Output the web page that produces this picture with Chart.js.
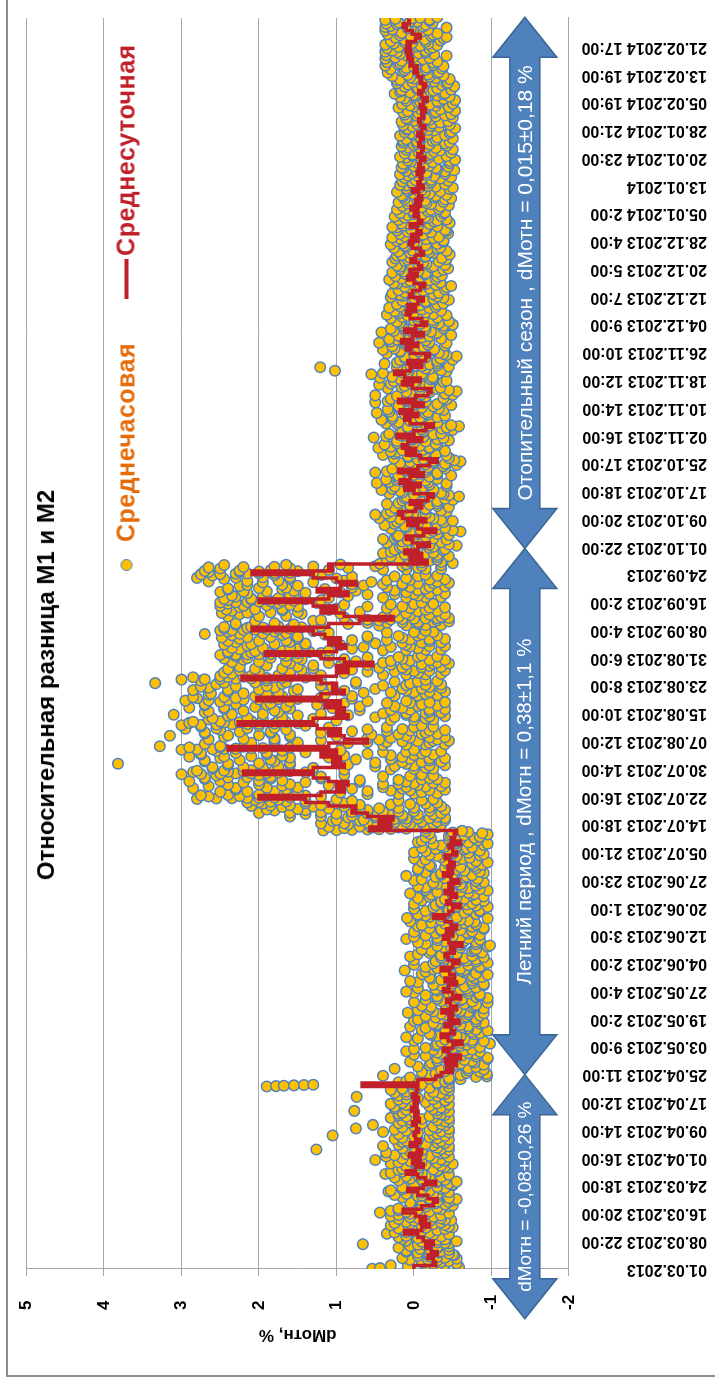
<!DOCTYPE html>
<html lang="ru">
<head>
<meta charset="utf-8">
<title>Относительная разница М1 и М2</title>
<script src="https://cdn.jsdelivr.net/npm/chart.js@4.4.1/dist/chart.umd.min.js"></script>
<style>
  html, body { margin: 0; padding: 0; background: #fff; }
  #sheet { position: relative; width: 715px; height: 1383px; overflow: hidden; transform: rotate(180deg); font-family: "Liberation Sans", Arial, sans-serif; }
  #sheet canvas { position: absolute; left: 0; top: 0; }
  .frame { position: absolute; top: 6px; right: 6px; left: -20px; height: 1420px; border-top: 2px solid #8c8c8c; border-right: 2px solid #8c8c8c; }
  .turned { position: absolute; transform-origin: 0 0; white-space: nowrap; }
  .title { left: 669px; top: 698px; transform: rotate(90deg) translate(-50%, -50%); font-weight: bold; font-size: 24px; color: #000; }
  .legend { left: 589px; top: 812px; transform: rotate(90deg) translateY(-50%); display: flex; align-items: center; font-weight: bold; font-size: 25px; letter-spacing: 0.5px; }
  .legend .dot { width: 10px; height: 10px; border-radius: 50%; background: #ffc000; border: 1.5px solid #4f81bd; margin-right: 17px; }
  .legend .hourly { color: #e46c0a; }
  .legend .dash { width: 40px; height: 4px; background: #c0202a; margin-left: 44px; margin-right: 3px; }
  .legend .daily { color: #c0202a; }
</style>
</head>
<body>
<div id="sheet">
  <div class="frame"></div>
  <canvas id="diffChart" width="715" height="1383"></canvas>
  <div class="turned title">Относительная разница М1 и М2</div>
  <div class="turned legend">
    <span class="dot"></span><span class="hourly">Среднечасовая</span>
    <span class="dash"></span><span class="daily">Среднесуточная</span>
  </div>
</div>
<script>
// hour axis: one tick label every 190 hourly records
const labelStep = 190;
const dateLabels = [
  '01.03.2013', '08.03.2013 22:00', '16.03.2013 20:00', '24.03.2013 18:00', '01.04.2013 16:00',
  '09.04.2013 14:00', '17.04.2013 12:00', '25.04.2013 11:00', '03.05.2013 9:00', '19.05.2013 2:00',
  '27.05.2013 4:00', '04.06.2013 2:00', '12.06.2013 3:00', '20.06.2013 1:00', '27.06.2013 23:00',
  '05.07.2013 21:00', '14.07.2013 18:00', '22.07.2013 16:00', '30.07.2013 14:00', '07.08.2013 12:00',
  '15.08.2013 10:00', '23.08.2013 8:00', '31.08.2013 6:00', '08.09.2013 4:00', '16.09.2013 2:00',
  '24.09.2013', '01.10.2013 22:00', '09.10.2013 20:00', '17.10.2013 18:00', '25.10.2013 17:00',
  '02.11.2013 16:00', '10.11.2013 14:00', '18.11.2013 12:00', '26.11.2013 10:00', '04.12.2013 9:00',
  '12.12.2013 7:00', '20.12.2013 5:00', '28.12.2013 4:00', '05.01.2014 2:00', '13.01.2014',
  '20.01.2014 23:00', '28.01.2014 21:00', '05.02.2014 19:00', '13.02.2014 19:00', '21.02.2014 17:00'
];
const hourMax = 8560;

// daily mean dMотн, %, one value per day starting 01.03.2013
const springMean = [
  0, -0.28, -0.25, -0.18, -0.3, -0.22, -0.15, -0.25, -0.12, -0.05,
  0.12, -0.1, -0.2, -0.08, -0.15, -0.02, 0.14, -0.1, -0.25, -0.3,
  -0.18, -0.05, 0.08, -0.12, -0.28, -0.15, -0.05, 0.1, -0.02, -0.12,
  0.02, -0.08, 0.06, -0.1, -0.04, 0.05, -0.08, -0.02, 0, -0.06,
  -0.03, 0.02, -0.07, -0.01, -0.05, 0.03, -0.04, 0, -0.06, 0.02,
  -0.03, -0.05, 0.67, -0.05, -0.28
];
const summerLowMean = [
  -0.35, -0.5, -0.42, -0.55, -0.4, -0.6, -0.45, -0.38, -0.5, -0.62,
  -0.44, -0.35, -0.52, -0.48, -0.4, -0.58, -0.45, -0.5, -0.36, -0.55,
  -0.47, -0.42, -0.6, -0.5, -0.38, -0.45, -0.55, -0.4, -0.52, -0.46,
  -0.35, -0.5, -0.58, -0.44, -0.4, -0.52, -0.47, -0.62, -0.45, -0.38,
  -0.5, -0.42, -0.55, -0.48, -0.4, -0.25, -0.45, -0.5, -0.6, -0.42,
  -0.47, -0.55, -0.4, -0.5, -0.45, -0.58, -0.48, -0.38, -0.5, -0.44,
  -0.52, -0.46, -0.4, -0.55, -0.5, -0.45, -0.6, -0.48, -0.52, -0.55
];
const summerHighMean = [
  0.57, 0.3, 0.45, 0.27, 0.6, 0.8, 0.75, 1.1, 1.4, 2.0,
  1.2, 0.9, 1.0, 0.85, 1.1, 1.3, 2.2, 1.3, 0.9, 1.05,
  0.95, 1.2, 1.0, 2.4, 1.1, 0.6, 0.9, 1.1, 0.95, 1.25,
  2.27, 1.3, 0.85, 1.0, 0.9, 1.15, 0.95, 2.03, 1.2, 0.9,
  1.05, 1.0, 1.2, 2.22, 1.0, 0.85, 1.0, 0.53, 0.9, 1.2,
  1.92, 1.0, 0.88, 1.1, 0.95, 1.15, 1.3, 2.09, 1.1, 0.7,
  0.27, 0.9, 1.2, 1.0, 1.3, 2.0, 1.1, 0.85, 1.25, 0.95,
  0.74, 1.0, 1.3, 2.09, 1.05, 1.1
];
const heatingMean = [
  -0.17, 0.05, -0.1, 0.12, -0.05, -0.2, 0.02, 0.1, -0.12, -0.28,
  -0.05, 0.08, -0.15, 0.15, 0.2, -0.02, -0.1, 0.05, -0.18, -0.25,
  0.0, 0.12, -0.08, 0.18, 0.05, -0.12, 0.2, -0.05, -0.2, -0.3,
  -0.08, 0.1, -0.02, 0.15, 0.08, -0.1, 0.22, 0.0, -0.15, -0.25,
  0.05, 0.12, -0.05, 0.18, 0.02, -0.12, 0.2, -0.02, -0.18, -0.22,
  0.02, 0.15, -0.08, 0.12, 0.25, 0.05, -0.1, 0.08, -0.15, -0.2,
  0.04, 0.1, -0.05, 0.16, 0.02, -0.12, 0.12, -0.02, -0.16, -0.1,
  0.05, 0.1, -0.02, 0.08, -0.05, -0.12, 0.06, 0.02, -0.08, -0.14,
  0.0, 0.08, -0.04, 0.05, -0.1, -0.06, 0.04, -0.02, -0.12, -0.08,
  0.02, 0.06, -0.05, 0.03, -0.09, -0.04, 0.05, -0.1, -0.06, 0.0,
  -0.05, 0.04, -0.08, -0.02, -0.1, -0.06, 0.02, -0.12, -0.05, -0.08,
  -0.1, -0.04, -0.12, -0.06, -0.08, -0.14, -0.05, -0.1, -0.12, -0.06,
  -0.08, -0.12, -0.05, -0.1, -0.14, -0.08, -0.06, -0.12, -0.1, -0.15,
  -0.08, -0.12, -0.17, -0.1, -0.06, -0.12, -0.15, -0.08, -0.1, -0.05,
  0.0, -0.04, 0.05, 0.02, 0.08, 0.04, 0.1, 0.05, 0.09, -0.02,
  -0.08, 0.02, 0.1, 0.14, 0.06, 0.09
];

// hourly readings, hundredths of a percent, one string per day (spread evenly over the day)
const springHourly = [
  '54 44 -35 -58 8 -15', '30 -40 -25 -55 -12 -35', '-10 -45 -30 5 -18 -55', '15 -40 -30 -20 -5 -52', '-50 -20 -45 -5 -32 10',
  '-35 10 -45 -20 -8 -30', '20 -30 -45 5 -15 -5', '66 -45 -40 -30 -10 -55', '10 -30 -40 15 -5 -20', '20 -35 10 -15 -25 -45',
  '35 -20 25 10 0 -10', '-30 15 -40 20 -15 -50', '-45 -10 30 -40 -25 5', '25 -35 10 -20 0 -48', '-40 20 -35 -5 5 -25',
  '30 -35 20 -15 5 -45', '44 10 -20 30 20 -5', '-35 20 -30 5 -15 -45', '-50 -10 -40 -15 -28 5', '-45 -30 -10 -50 -20 -55',
  '-20 -45 15 -30 -5 -10', '25 -30 10 -25 -10 -45', '33 -20 30 -10 15 -35', '-40 15 -30 0 -15 -50', '-50 -15 -45 -20 -30 -55',
  '-30 20 -40 -10 5 -20', '25 -35 10 -15 -5 -45', '37 -10 30 -5 15 -30', '-30 20 -25 15 -5 -45', '-40 10 -35 -5 -15 -50',
  '30 -30 20 -10 5 -40', '50 -35 15 -25 -5 -45', '36 -20 25 -10 10 -35', '-40 36 -30 5 -10 -45', '126 -35 15 -30 0 -45',
  '40 -25 20 -15 5 -40', '-30 15 -35 10 -5 -45', '25 -30 15 -20 0 -40', '105 -25 20 -30 -5 -45', '40 -35 10 -20 25 -45',
  '75 -30 15 -25 0 -40', '53 -35 -10 20 5 -45', '-40 15 -30 5 -10 -45', '30 -25 10 -20 20 -40', '-35 20 -30 15 0 -45',
  '77 -30 10 -25 25 -40', '-35 25 -20 5 10 -45', '30 -30 15 -15 0 -40', '-40 20 -25 10 -5 -45', '74 -30 20 -20 10 -40',
  '-35 25 -25 10 0 -45', '30 -40 15 -20 -5 -45', '190 178 168 155 142 130 -10 5 -30 -45', '-30 20 -40 10 0 -45', '-60 -20 -45 5 -80 -94'
];
const summerLowHourly = [
  '40 -60 -20 -94 -28 -68', '-10 -85 -40 -70 -35 -90', '25 -70 -45 -80 -5 -55', '-20 -90 -55 -60 -22 -78', '5 -75 -30 -65 -48 -95',
  '-30 -95 -50 -80 -15 -62', '0 -80 -35 -70 -30 -85', '10 -65 -25 -75 0 -50', '-15 -85 -45 -60 -28 -68', '-30 -98 -60 -75 -35 -90',
  '0 -75 -40 -65 -5 -55', '10 -60 -30 -55 -22 -78', '-20 -85 -45 -75 -48 -95', '-10 -80 -40 -70 -15 -62', '5 -70 -30 -60 -30 -85',
  '-25 -90 -55 -80 0 -50', '-5 -80 -35 -65 -28 -68', '-15 -85 -40 -70 -35 -90', '8 -70 -25 -60 -5 -55', '-20 -90 -50 -75 -22 -78',
  '-10 -80 -40 -65 -48 -95', '0 -75 -35 -60 -15 -62', '-30 -95 -55 -80 -30 -85', '-15 -85 -45 -70 0 -50', '10 -70 -30 -60 -28 -68',
  '-5 -80 -40 -65 -35 -90', '-25 -90 -50 -75 -5 -55', '5 -75 -35 -60 -22 -78', '-20 -88 -45 -75 -48 -95', '-10 -80 -40 -65 -15 -62',
  '12 -65 -25 -60 -30 -85', '-15 -85 -45 -70 0 -50', '-25 -95 -55 -80 -28 -68', '0 -80 -40 -65 -35 -90', '5 -75 -35 -55 -5 -55',
  '-20 -88 -45 -75 -22 -78', '-10 -80 -40 -60 -48 -95', '-30 -98 -60 -80 -15 -62', '-5 -80 -40 -65 -30 -85', '10 -70 -30 -60 0 -50',
  '-15 -85 -45 -70 -28 -68', '0 -75 -35 -60 -35 -90', '-20 -90 -50 -75 -5 -55', '-10 -80 -40 -65 -22 -78', '5 -70 -35 -60 -48 -95',
  '9 -55 -20 -35 -15 -40', '-5 -80 -40 -65 -30 -85', '-15 -85 -45 -70 0 -50', '-25 -95 -55 -80 -28 -68', '0 -75 -35 -60 -35 -90',
  '-10 -80 -40 -65 -5 -55', '-20 -90 -50 -75 -22 -78', '5 -70 -30 -60 -48 -95', '-15 -85 -45 -70 -15 -62', '-5 -80 -40 -60 -30 -85',
  '-25 -90 -55 -80 0 -50', '-10 -82 -40 -65 -28 -68', '10 -75 -35 -50 -35 -90', '-15 -85 -45 -65 -5 -55', '-5 -80 -40 -60 -22 -78',
  '-20 -88 -45 -75 -48 -95', '-10 -80 -40 -55 -15 -62', '0 -72 -35 -55 -30 -85', '-20 -90 -50 -70 0 -50', '-15 -85 -45 -65 -28 -68',
  '-10 -75 -40 -55 -35 -90', '-25 -95 -55 -70 -5 -55', '-10 -82 -45 -60 -22 -78', '-15 -85 -45 -65 -48 -95', '-20 -88 -50 -70 -15 -62'
];
const summerHighHourly = [
  '117 100 80 60 45 30 10 -15 90 55 20 -30', '110 70 45 30 15 0 -15 -35 85 50 5 -25',
  '120 90 60 40 25 10 -10 -30 105 70 30 -40', '100 65 40 25 10 -5 -20 -40 85 50 15 -30',
  '160 120 80 50 30 15 -5 -25 140 100 60 -35', '200 160 120 80 40 20 0 -20 180 140 60 -40',
  '190 150 110 70 45 20 0 -20 170 130 90 -35', '210 185 160 120 70 30 5 -15 195 140 90 -30',
  '215 200 185 165 140 80 20 -10 205 175 100 -25', '280 255 235 215 200 180 160 120 265 225 190 140',
  '275 240 200 170 60 20 0 -30 185 150 95 -10', '250 215 180 60 30 5 -20 -40 230 165 80 15',
  '285 230 190 150 40 10 -15 -35 265 170 110 -5', '240 200 160 40 20 0 -25 -40 220 140 70 10',
  '290 250 200 170 70 20 -10 -30 270 185 120 -20', '270 240 215 185 120 40 5 -25 255 200 90 -10',
  '300 275 250 230 210 190 175 140 285 240 220 160', '280 245 210 180 90 30 0 -25 260 195 130 -15',
  '260 220 175 50 25 0 -20 -40 240 160 85 10', '382 240 200 160 50 15 -10 -35 270 180 100 -20',
  '270 225 185 75 30 5 -20 -40 250 160 110 15', '290 245 210 170 90 30 0 -25 275 190 60 -10',
  '275 230 190 140 40 10 -15 -35 255 170 95 0', '300 280 260 245 230 210 195 160 290 250 220 180',
  '328 250 210 150 40 10 -15 -40 270 180 85 -20', '210 150 60 35 15 -5 -25 -45 180 120 45 -30',
  '265 220 180 60 30 5 -20 -40 245 160 100 10', '315 240 200 160 55 20 -10 -30 270 185 120 -15',
  '270 225 185 80 35 5 -20 -40 250 165 60 15', '295 255 215 180 110 35 0 -25 275 200 140 -10',
  '300 275 255 235 215 200 180 150 290 245 225 165', '285 250 210 175 100 30 0 -25 265 195 130 -15',
  '260 215 170 50 25 0 -20 -40 240 150 85 10', '310 235 195 120 40 10 -15 -35 270 175 95 -20',
  '265 220 180 70 30 5 -20 -40 245 160 105 15', '290 245 205 165 70 25 -5 -30 270 190 125 -10',
  '270 230 185 90 35 5 -20 -40 250 160 60 10', '295 265 240 220 200 175 150 80 280 230 185 120',
  '285 245 205 170 80 25 -5 -30 265 190 115 -15', '262 220 175 65 30 0 -20 -40 240 155 90 10',
  '285 240 200 150 50 15 -10 -35 265 180 105 -20', '275 230 190 120 40 10 -15 -35 255 170 75 5',
  '334 245 205 165 75 25 -5 -30 275 190 120 -15', '300 270 250 230 210 190 170 140 285 240 220 160',
  '250 210 175 120 40 10 -15 -35 235 160 90 -5', '245 200 160 60 25 0 -20 -40 225 145 80 10',
  '240 205 170 130 45 15 -10 -35 225 150 95 -20', '190 130 60 30 10 -10 -25 -45 160 110 40 -30',
  '235 200 165 75 30 5 -20 -40 220 145 90 15', '245 215 185 150 60 20 -5 -30 230 165 110 -10',
  '250 230 215 200 185 170 150 120 240 210 190 135', '240 205 170 110 40 10 -15 -35 225 150 80 -5',
  '235 195 160 65 30 5 -20 -40 215 140 95 10', '245 210 180 140 50 15 -10 -35 230 160 105 -20',
  '240 200 165 80 35 5 -20 -40 225 150 60 15', '248 215 185 150 60 20 -5 -30 235 170 115 -10',
  '270 225 195 165 110 35 0 -25 240 180 130 -15', '250 235 220 205 190 175 160 130 245 215 195 145',
  '245 210 175 120 45 10 -15 -35 230 155 85 -5', '230 180 60 35 15 -5 -25 -45 205 130 45 -30',
  '120 60 30 15 0 -15 -30 -45 90 40 20 -35', '240 200 165 70 30 5 -20 -40 225 145 95 10',
  '248 215 185 150 70 25 -5 -30 235 170 110 -15', '242 205 170 100 35 5 -20 -40 225 150 60 15',
  '250 220 190 160 90 30 0 -25 240 175 125 -10', '250 230 215 200 185 170 155 120 240 210 190 140',
  '245 210 175 110 40 10 -15 -35 230 155 85 -5', '235 195 160 60 25 0 -20 -40 215 140 95 10',
  '250 220 190 155 75 25 -5 -30 240 170 115 -15', '240 200 165 80 35 5 -20 -40 225 150 65 15',
  '215 170 80 40 15 -5 -25 -45 195 130 55 -30', '265 215 175 90 35 5 -20 -40 245 160 100 10',
  '280 230 195 160 80 25 -5 -30 260 180 120 -15', '275 250 230 215 200 180 160 130 265 225 200 150',
  '270 225 185 110 40 10 -15 -35 250 160 85 -5', '265 220 180 130 50 15 -10 -35 245 165 95 10'
];
const heatingHourly = [
  '44 -50 -10 -35 5 -20', '35 -30 20 -5 -8 -30', '30 -45 5 -30 12 -15', '40 -25 30 5 0 -38', '25 -40 10 -20 18 -25',
  '15 -55 -20 -45 -5 -12', '35 -35 15 -10 8 -42', '40 -25 25 0 -15 22', '20 -45 0 -30 5 -20', '5 -60 -25 -50 -8 -30',
  '30 -40 10 -25 12 -15', '38 -30 25 -5 0 -38', '22 -50 0 -35 18 -25', '45 -20 30 5 -5 -12', '50 -15 35 10 8 -42',
  '30 -35 15 -15 -15 22', '25 -45 5 -30 5 -20', '35 -30 20 -5 -8 -30', '15 -50 -10 -40 12 -15', '10 -58 -20 -45 0 -38',
  '32 -35 15 -12 18 -25', '42 -25 28 3 -5 -12', '25 -42 5 -20 8 -42', '48 -18 32 10 -15 22', '36 -30 20 -6 5 -20',
  '20 -48 0 -30 -8 -30', '50 -15 35 8 12 -15', '28 -40 10 -18 0 -38', '12 -55 -15 -40 18 -25', '5 -60 -25 -52 -5 -12',
  '26 -45 8 -22 8 -42', '40 -28 25 0 -15 22', '30 -40 15 -12 5 -20', '46 -20 30 4 -8 -30', '38 -28 22 0 12 -15',
  '22 -45 2 -30 0 -38', '52 -12 36 12 18 -25', '32 -35 18 -12 -5 -12', '15 -50 -10 -36 8 -42', '8 -58 -20 -48 -15 22',
  '36 -30 20 -6 5 -20', '42 -22 28 2 -8 -30', '28 -40 10 -18 12 -15', '48 -18 32 10 0 -38', '34 -32 18 -10 18 -25',
  '20 -48 0 -30 -5 -12', '50 -15 34 10 8 -42', '30 -38 14 -14 -15 22', '50 -50 -10 -40 5 -20', '10 -55 -18 -45 -8 -30',
  '34 -34 16 -8 12 -15', '45 -20 30 5 0 -38', '26 -42 6 -22 18 -25', '44 -24 28 0 -5 -12', '55 -10 40 15 8 -42',
  '102 -35 10 -20 -15 22', '121 -45 -10 -30 5 -20', '38 -30 22 -2 -8 -30', '18 -50 -5 -34 12 -15', '12 -55 -12 -42 0 -38',
  '35 -32 18 -6 18 -25', '40 -26 25 2 -5 -12', '28 -40 10 -18 8 -42', '45 -20 30 8 -15 22', '32 -35 15 -10 5 -20',
  '20 -48 0 -28 -8 -30', '42 -22 26 4 12 -15', '30 -38 12 -14 0 -38', '16 -50 -8 -32 18 -25', '22 -45 0 -24 -5 -12',
  '30 -30 15 -5 8 -42', '35 -25 20 0 -15 22', '25 -35 10 -10 5 -20', '32 -28 18 -4 -8 -30', '22 -38 5 -15 12 -15',
  '15 -45 -5 -25 0 -38', '30 -30 15 -5 18 -25', '28 -32 12 -8 -5 -12', '20 -40 2 -20 8 -42', '12 -48 -8 -28 -15 22',
  '26 -34 10 -10 5 -20', '32 -28 16 -4 -8 -30', '24 -36 8 -14 12 -15', '28 -30 14 -6 0 -38', '18 -44 -2 -22 18 -25',
  '22 -40 4 -16 -5 -12', '28 -32 12 -6 8 -42', '24 -36 6 -14 -15 22', '16 -46 -4 -24 5 -20', '20 -42 2 -18 -8 -30',
  '26 -34 10 -8 12 -15', '30 -30 14 -4 0 -38', '22 -38 4 -16 18 -25', '28 -32 12 -8 -5 -12', '18 -44 -2 -22 8 -42',
  '22 -40 4 -16 -15 22', '28 -30 14 -6 5 -20', '16 -46 -4 -26 -8 -30', '20 -42 2 -18 12 -15', '25 -35 8 -10 0 -38',
  '18 -40 2 -18 2 -22', '22 -32 10 -6 -10 -34', '15 -45 -2 -22 8 -16', '20 -38 6 -14 -4 -40', '12 -48 -6 -26 14 -28',
  '16 -42 0 -20 -8 -14', '22 -34 8 -10 4 -46', '10 -50 -8 -28 -18 10', '18 -40 2 -18 2 -22', '15 -44 -2 -22 -10 -34',
  '12 -48 -6 -26 8 -16', '18 -40 2 -16 -4 -40', '10 -52 -8 -30 14 -28', '16 -44 0 -20 -8 -14', '14 -46 -4 -24 4 -46',
  '8 -53 -10 -32 -18 10', '18 -42 2 -18 2 -22', '12 -48 -6 -26 -10 -34', '10 -50 -8 -28 8 -16', '16 -42 0 -20 -4 -40',
  '14 -46 -4 -24 14 -28', '10 -50 -8 -30 -8 -14', '18 -40 2 -18 4 -46', '12 -48 -6 -26 -18 10', '8 -53 -12 -32 2 -22',
  '14 -46 -4 -24 -10 -34', '16 -44 0 -20 8 -16', '10 -50 -8 -28 -4 -40', '12 -48 -6 -26 14 -28', '8 -53 -12 -34 -8 -14',
  '20 -45 0 -28 5 -20', '15 -50 -5 -32 -8 -30', '10 -53 -12 -38 12 -15', '18 -46 -2 -30 0 -38', '25 -40 5 -22 18 -25',
  '16 -48 -4 -30 -5 -12', '12 -52 -10 -36 8 -42', '22 -44 2 -26 -15 22', '18 -46 0 -28 5 -20', '28 -38 8 -18 -8 -30',
  '34 -32 14 -10 12 -15', '30 -36 10 -16 0 -38', '37 -25 20 -4 18 -25', '35 -30 16 -8 -5 -12', '37 -20 24 0 8 -42',
  '36 -26 18 -6 -15 22', '37 -15 28 6 5 -20', '35 -24 20 -4 -8 -30', '37 -18 26 2 12 -15', '30 -34 12 -14 0 -38',
  '24 -42 4 -22 18 -25', '34 -30 16 -8 -5 -12', '37 -18 28 4 8 -42', '37 -12 30 10 -15 22', '36 -24 20 -4 5 -20',
  '37 -20 24 2 -8 -30'
];

// measuring periods (hour bounds) and their notes
const periodBounds = [-340, 1330, 4930, 8565];
const periodNotes = [
  'dMотн = -0,08±0,26 %',
  'Летний период , dMотн = 0,38±1,1 %',
  'Отопительный сезон , dMотн = 0,015±0,18 %'
];
const arrowLevel = -1.43;

const dailyMean = [...springMean, ...summerLowMean, ...summerHighMean, ...heatingMean];
const hourlyDays = [...springHourly, ...summerLowHourly, ...summerHighHourly, ...heatingHourly];

const hourlyPoints = [];
hourlyDays.forEach((row, day) => {
  const values = row.split(' ').map(Number);
  values.forEach((v, k) => {
    hourlyPoints.push({ x: v / 100, y: day * 24 + (k + 0.5) * 24 / values.length });
  });
});
const dailyPoints = dailyMean.map((v, day) => ({ x: v, y: day * 24 }));

const gridGrey = '#a6a6a6';
const arrowFonts = ['19px "Liberation Sans"', '20.5px "Liberation Sans"', '21px "Liberation Sans"'];

// double-headed period arrows with their notes
const periodArrows = {
  id: 'periodArrows',
  afterDatasetsDraw(chart) {
    const { ctx, scales: { x, y } } = chart;
    const cx = x.getPixelForValue(arrowLevel);
    const head = 40, headHalf = 32, bodyHalf = 15;
    periodNotes.forEach((note, i) => {
      const top = y.getPixelForValue(periodBounds[i]);
      const bottom = y.getPixelForValue(periodBounds[i + 1]);
      ctx.save();
      ctx.beginPath();
      ctx.moveTo(cx, top);
      ctx.lineTo(cx + headHalf, top + head);
      ctx.lineTo(cx + bodyHalf, top + head);
      ctx.lineTo(cx + bodyHalf, bottom - head);
      ctx.lineTo(cx + headHalf, bottom - head);
      ctx.lineTo(cx, bottom);
      ctx.lineTo(cx - headHalf, bottom - head);
      ctx.lineTo(cx - bodyHalf, bottom - head);
      ctx.lineTo(cx - bodyHalf, top + head);
      ctx.lineTo(cx - headHalf, top + head);
      ctx.closePath();
      ctx.fillStyle = '#4f81bd';
      ctx.fill();
      ctx.strokeStyle = '#3b6594';
      ctx.lineWidth = 1.5;
      ctx.stroke();
      ctx.translate(cx, (top + bottom) / 2);
      ctx.rotate(Math.PI / 2);
      ctx.fillStyle = '#fff';
      ctx.font = arrowFonts[i];
      ctx.textAlign = 'center';
      ctx.textBaseline = 'middle';
      ctx.fillText(note, 0, 1);
      ctx.restore();
    });
  }
};

new Chart(document.getElementById('diffChart'), {
  type: 'scatter',
  data: {
    datasets: [
      {
        label: 'Среднесуточная',
        data: dailyPoints,
        showLine: true,
        stepped: 'after',
        borderColor: '#c0202a',
        borderWidth: 3.5,
        pointRadius: 0,
        order: 0
      },
      {
        label: 'Среднечасовая',
        data: hourlyPoints,
        pointRadius: 5.3,
        pointBorderWidth: 1.5,
        pointBackgroundColor: '#ffc000',
        pointBorderColor: '#4f81bd',
        order: 1
      }
    ]
  },
  options: {
    responsive: false,
    animation: false,
    devicePixelRatio: 1,
    layout: { padding: { left: 8, right: 26.5, top: 0, bottom: 18 } },
    plugins: { legend: { display: false }, tooltip: { enabled: false } },
    scales: {
      x: {
        type: 'linear',
        position: 'top',
        min: -2,
        max: 5,
        afterFit: (scale) => { scale.height = 114; scale.paddingLeft = 0; scale.paddingRight = 0; },
        ticks: {
          stepSize: 1,
          minRotation: -90,
          maxRotation: -90,
          labelOffset: -20.4,
          padding: 34,
          color: '#000',
          font: { family: 'Liberation Sans', size: 17, weight: 'bold' }
        },
        grid: { color: gridGrey, tickLength: 7, tickColor: gridGrey },
        border: { color: gridGrey },
        title: {
          display: true,
          text: 'dMотн, %',
          color: '#000',
          padding: { top: 38, bottom: 0 },
          font: { family: 'Liberation Sans', size: 17, weight: 'bold' }
        }
      },
      y: {
        type: 'linear',
        position: 'left',
        reverse: true,
        min: 0,
        max: hourMax,
        afterFit: (scale) => { scale.width = 138; scale.paddingTop = 0; scale.paddingBottom = 0; },
        afterBuildTicks: (scale) => {
          scale.ticks = dateLabels.map((_, i) => ({ value: i * labelStep }));
        },
        ticks: {
          autoSkip: false,
          crossAlign: 'far',
          color: '#000',
          font: { family: 'Liberation Sans', size: 16, weight: 'bold' },
          callback: (value) => dateLabels[Math.round(value / labelStep)]
        },
        grid: { display: false, drawTicks: false },
        border: { color: gridGrey }
      }
    }
  },
  plugins: [periodArrows]
});
</script>
</body>
</html>
